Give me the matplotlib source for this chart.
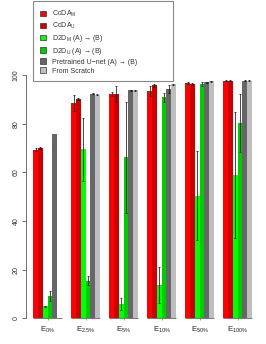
import numpy as np
import matplotlib
matplotlib.use('Agg')
import matplotlib.pyplot as plt
from matplotlib.patches import Patch, Rectangle

plt.rcParams['font.family'] = ['Liberation Sans', 'DejaVu Sans']
plt.rcParams['mathtext.fontset'] = 'custom'
plt.rcParams['mathtext.rm'] = 'Liberation Sans'
plt.rcParams['mathtext.it'] = 'Liberation Sans:italic'

groups = [r'E$_{\mathrm{0\%}}$', r'E$_{\mathrm{2.5\%}}$', r'E$_{\mathrm{5\%}}$',
          r'E$_{\mathrm{10\%}}$', r'E$_{\mathrm{50\%}}$', r'E$_{\mathrm{100\%}}$']
labels = [r'CoDA$_\mathrm{M}$', r'CoDA$_\mathrm{U}$',
          r'D2D$_\mathrm{M}$ (A) → (B)', r'D2D$_\mathrm{U}$ (A) → (B)',
          'Pretrained U\u2212net (A) → (B)', 'From Scratch']
colors = ['#FF0000', '#CD0000', '#00FF00', '#00CD00', '#666666', '#BEBEBE']

coda_m = [69.3, 88.5, 92.2, 93.5, 96.8, 97.7]
coda_u = [70.0, 90.2, 92.2, 95.7, 96.3, 97.7]
d2d_m = [4.9, 69.5, 5.8, 13.6, 50.3, 58.8]
d2d_u = [9.3, 15.5, 66.1, 90.9, 96.3, 80.2]
pretrained = [75.8, 92.3, 93.7, 94.4, 97.0, 97.7]
scratch = [0, 91.9, 93.7, 96.1, 97.4, 97.7]

coda_m_err = [0.5, 3.4, 0.7, 2.0, 0.5, 0.3]
coda_u_err = [0.4, 0.5, 3.3, 0.5, 0.5, 0.3]
d2d_m_err = [0.3, 13.0, 2.5, 7.3, 18.3, 25.8]
d2d_u_err = [2.0, 2.0, 23.0, 1.8, 1.0, 12.0]
pretrained_err = [0, 0.3, 0.3, 1.6, 0.3, 0.3]
scratch_err = [0, 0.3, 0.3, 0.3, 0.3, 0.3]

series = [coda_m, coda_u, d2d_m, d2d_u, pretrained, scratch]
errs = [coda_m_err, coda_u_err, d2d_m_err, d2d_u_err, pretrained_err, scratch_err]

W, H = 266, 344
fig = plt.figure(figsize=(W / 100, H / 100), dpi=100)
ax = fig.add_axes([26 / W, 25.7 / H, (262 - 26) / W, (H - 25.7) / H])

nb = len(series)
step = nb + 2
gx = np.arange(len(groups)) * step
for j, (vals, er) in enumerate(zip(series, errs)):
    x = gx + j + 0.5
    v = np.array(vals, float)
    e = np.array(er, float)
    ax.bar(x, v, width=1.0, color=colors[j], linewidth=0)
    m = (v > 0) & (e > 0)
    ax.errorbar(x[m], v[m], yerr=e[m], fmt='none', ecolor='black',
                elinewidth=0.5, capsize=0.9, capthick=0.5)

# baseline under each group
for g in gx:
    ax.plot([g, g + nb], [0, 0], color='#777777', lw=0.7, clip_on=False,
            solid_capstyle='butt')

px = 4.75
ax.set_xlim(-(33.3 - 26) / px, (262 - 33.3) / px)
ax.set_ylim(0, (H - 25.7) / 2.433)

ax.spines['top'].set_visible(False)
ax.spines['right'].set_visible(False)
ax.spines['bottom'].set_visible(False)
ax.spines['left'].set_bounds(0, 100)
ax.spines['left'].set_linewidth(0.6)
ax.spines['left'].set_color('#555555')

ax.set_yticks([0, 20, 40, 60, 80, 100])
ax.set_yticklabels(['0', '20', '40', '60', '80', '100'], rotation=90,
                   va='center', fontsize=5, color='#333333')
ax.tick_params(axis='y', length=3, width=0.6, color='#555555', pad=1.5)
ax.set_xticks(gx + nb / 2)
ax.set_xticklabels(groups, fontsize=5.5, color='#222222')
ax.tick_params(axis='x', length=1.5, width=0.5, color='#777777', pad=3)

# legend box
fig.add_artist(Rectangle((33 / W, 1 - 81 / H), 140 / W, 80 / H,
                         transform=fig.transFigure, facecolor='white',
                         edgecolor='#888888', linewidth=0.8, zorder=4))
handles = [Patch(facecolor=c, edgecolor='#333333', linewidth=0.5) for c in colors]
leg = fig.legend(handles, labels, loc='upper left',
                 bbox_to_anchor=(40 / W, 1 - 9 / H), fontsize=5,
                 frameon=False, borderpad=0,
                 handlelength=0.8, handleheight=0.9, handletextpad=0.9,
                 labelspacing=0.25, borderaxespad=0)
leg.set_zorder(5)
for t in leg.get_texts():
    t.set_color('#333333')

fig.savefig('out.png', dpi=100)
